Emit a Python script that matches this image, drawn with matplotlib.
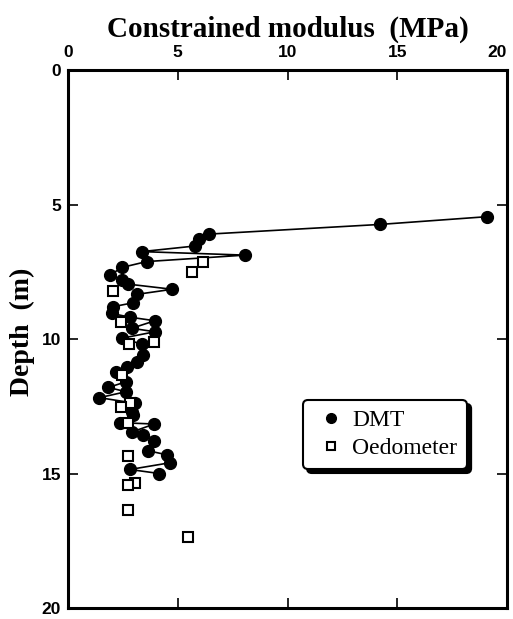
import matplotlib
matplotlib.use("Agg")
import matplotlib.pyplot as plt
from matplotlib.lines import Line2D

# DMT profile (MPa vs depth m)
dmt_depth = [5.45, 5.74, 6.10, 6.28, 6.54, 6.75, 6.88, 7.12, 7.34, 7.62, 7.81, 7.96,
             8.15, 8.34, 8.65, 8.80, 9.05, 9.19, 9.32, 9.60, 9.73, 9.97, 10.19, 10.59,
             10.84, 11.03, 11.21, 11.59, 11.80, 11.96, 12.18, 12.39, 12.70, 12.83, 13.11,
             13.16, 13.45, 13.57, 13.78, 14.15, 14.31, 14.60, 14.85, 15.00]
dmt_mod = [19.1, 14.2, 6.4, 5.95, 5.8, 3.36, 8.06, 3.58, 2.45, 1.92, 2.45, 2.75,
           4.75, 3.13, 2.98, 2.04, 1.99, 2.83, 3.96, 2.90, 3.96, 2.45, 3.36, 3.43,
           3.13, 2.67, 2.19, 2.64, 1.84, 2.64, 1.43, 3.05, 2.90, 2.98, 2.37,
           3.93, 2.93, 3.43, 3.93, 3.63, 4.53, 4.65, 2.82, 4.15]

# oedometer tests
oed_depth = [7.13, 7.50, 8.22, 9.36, 10.10, 10.19, 11.34, 12.39, 12.52, 13.11,
             14.35, 15.34, 15.43, 16.36, 17.35]
oed_mod = [6.13, 5.66, 2.06, 2.40, 3.92, 2.78, 2.47, 2.82, 2.40, 2.75,
           2.75, 3.05, 2.75, 2.75, 5.48]

x_ticks = [0, 5, 10, 15, 20]
y_ticks = [0, 5, 10, 15, 20]

fig = plt.figure(figsize=(5.13, 6.19), dpi=100)
ax = fig.add_axes([0.1326, 0.0178, 0.8558, 0.869])

ax.plot(dmt_mod, dmt_depth, 'k-', lw=1.2, zorder=2)
ax.plot(dmt_mod, dmt_depth, ls='none', marker='o', ms=8.5,
        mfc='black', mec='black', zorder=3)
ax.plot(oed_mod, oed_depth, ls='none', marker='s', ms=6.5, mfc='white',
        mec='black', mew=1.5, zorder=4)

ax.set_xlim(0, 20)
ax.set_ylim(20, 0)
ax.set_xticks(x_ticks)
ax.set_yticks(y_ticks)
ax.xaxis.tick_top()
ax.xaxis.set_label_position('top')
ax.tick_params(direction='in', length=7, width=1.2, top=True, bottom=True,
               left=True, right=True, labelsize=12.5)
ax.tick_params(axis='x', pad=7)
ax.tick_params(axis='y', pad=5)
for lab in ax.get_xticklabels() + ax.get_yticklabels():
    lab.set_fontfamily('Liberation Sans')
    lab.set_fontweight('bold')
ax.get_xticklabels()[-1].set_horizontalalignment('right')
ax.get_xticklabels()[-1].set_x(20.3)
for s in ax.spines.values():
    s.set_linewidth(2.2)

ax.set_xlabel('Constrained modulus  (MPa)', fontfamily='Liberation Serif',
              fontweight='bold', fontsize=21, labelpad=6)
ax.set_ylabel('Depth  (m)', fontfamily='Liberation Serif',
              fontweight='bold', fontsize=20)
ax.yaxis.set_label_coords(-0.075, 0.513)

handles = [Line2D([], [], ls='none', marker='o', ms=7, mfc='black', mec='black'),
           Line2D([], [], ls='none', marker='s', ms=6, mfc='white', mec='black', mew=1.5)]
leg = ax.legend(handles, ['DMT', 'Oedometer'], loc='upper left',
                bbox_to_anchor=(0.535, 0.387), borderaxespad=0, frameon=True,
                fancybox=True, shadow={'color': 'black', 'alpha': 1.0, 'ox': 3, 'oy': -3},
                prop={'family': 'Liberation Serif', 'size': 17},
                handlelength=1.6, handletextpad=0.1, borderpad=0.4,
                labelspacing=0.3, edgecolor='black', framealpha=1.0)
leg.get_frame().set_linewidth(1.5)

fig.savefig('out.png', dpi=100)
